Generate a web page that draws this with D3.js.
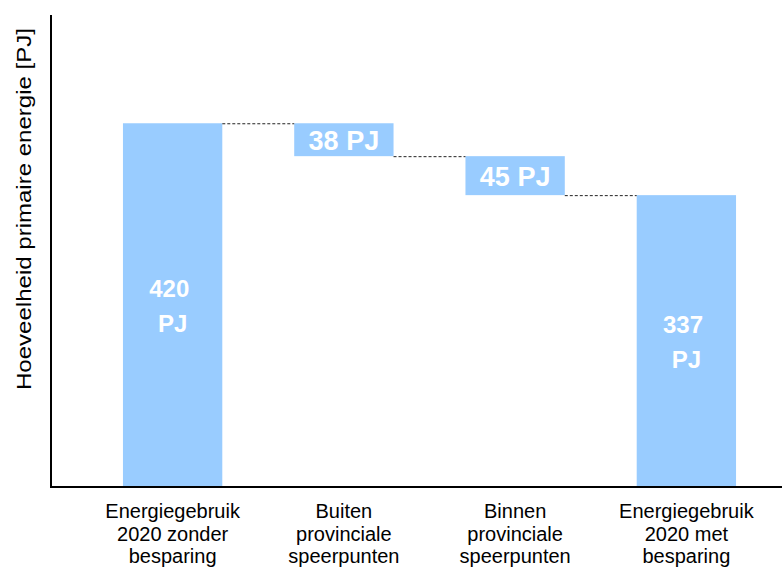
<!DOCTYPE html>
<meta charset="utf-8">
<style>
body { margin: 0; background: #fff; }
svg text { font-family: "Liberation Sans", Arial, sans-serif; }
.bar { fill: #99ccff; }
.axis { stroke: #000; stroke-width: 2; }
.link { stroke: #222; stroke-width: 1; stroke-dasharray: 3,2; }
.val { fill: #fff; font-weight: bold; white-space: pre; }
.cat { fill: #000; font-size: 20px; }
</style>
<body>
<svg width="782" height="570"></svg>
<script src="https://d3js.org/d3.v7.min.js"></script>
<script>

// data
var categories = ["Energiegebruik 2020 zonder besparing", "Buiten provinciale speerpunten",
                  "Binnen provinciale speerpunten", "Energiegebruik 2020 met besparing"];
var catLines = [["Energiegebruik", "2020 zonder", "besparing"],
                ["Buiten", "provinciale", "speerpunten"],
                ["Binnen", "provinciale", "speerpunten"],
                ["Energiegebruik", "2020 met", "besparing"]];
var values = [420, -38, -45, 337];
var kinds = ["total", "step", "step", "total"];
var labels = [["420 ", "PJ"], ["38 PJ"], ["45 PJ"], ["337 ", "PJ"]];

var svg = d3.select("svg");
var x0 = 51, y0 = 487;

var x = d3.scaleBand().domain(categories).range([87, 772]).paddingInner(0.42).paddingOuter(0.21);
var y = d3.scaleLinear().domain([0, 545]).range([y0, 15]);

// build waterfall start/end
var run = 0;
var data = categories.map(function(c, i) {
  var d = {cat: c, lines: catLines[i], label: labels[i], kind: kinds[i]};
  if (kinds[i] == "total") { d.lo = 0; d.hi = values[i]; run = values[i]; }
  else { d.hi = run; run = run + values[i]; d.lo = run; }
  d.end = run;
  return d;
});

svg.selectAll(".bar")
  .data(data)
  .enter().append("rect")
    .attr("class", "bar")
    .attr("x", function(d) { return x(d.cat); })
    .attr("y", function(d) { return y(d.hi); })
    .attr("width", x.bandwidth())
    .attr("height", function(d) { return y(d.lo) - y(d.hi); });

// dashed connectors
svg.selectAll(".link")
  .data(data.slice(0, -1))
  .enter().append("line")
    .attr("class", "link")
    .attr("x1", function(d) { return x(d.cat) + x.bandwidth(); })
    .attr("x2", function(d, i) { return x(data[i + 1].cat); })
    .attr("y1", function(d) { return y(d.end) + 0.5; })
    .attr("y2", function(d) { return y(d.end) + 0.5; });

// value labels
svg.selectAll(".val")
  .data(data)
  .enter().append("text")
    .attr("class", "val")
    .attr("text-anchor", "middle")
    .style("font-size", function(d) { return d.kind == "total" ? "24px" : "27px"; })
    .attr("x", function(d) { return x(d.cat) + x.bandwidth() / 2; })
    .attr("y", function(d) {
      var mid = (y(d.lo) + y(d.hi)) / 2;
      return d.label.length > 1 ? mid - 8.5 : mid + 10;
    })
    .each(function(d) {
      var t = d3.select(this), px = t.attr("x");
      d.label.forEach(function(s, k) {
        t.append("tspan").attr("x", px).attr("dy", k ? 35 : 0).text(s);
      });
    });

// axes
svg.append("line").attr("class", "axis")
  .attr("x1", x0).attr("x2", x0).attr("y1", 15).attr("y2", y0 + 1);
svg.append("line").attr("class", "axis")
  .attr("x1", x0 - 1).attr("x2", 782).attr("y1", y0).attr("y2", y0);

// category labels
svg.selectAll(".cat")
  .data(data)
  .enter().append("text")
    .attr("class", "cat")
    .attr("text-anchor", "middle")
    .attr("x", function(d) { return x(d.cat) + x.bandwidth() / 2; })
    .attr("y", 518)
    .each(function(d) {
      var t = d3.select(this), px = t.attr("x");
      d.lines.forEach(function(s, k) {
        t.append("tspan").attr("x", px).attr("dy", k ? 22.5 : 0).text(s);
      });
    });

// y title
svg.append("text")
  .attr("transform", "translate(31,209) rotate(-90)")
  .attr("text-anchor", "middle")
  .attr("textLength", 362)
  .attr("lengthAdjust", "spacingAndGlyphs")
  .style("font-size", "21px")
  .text("Hoeveelheid primaire energie [PJ]");

</script>
</body>
